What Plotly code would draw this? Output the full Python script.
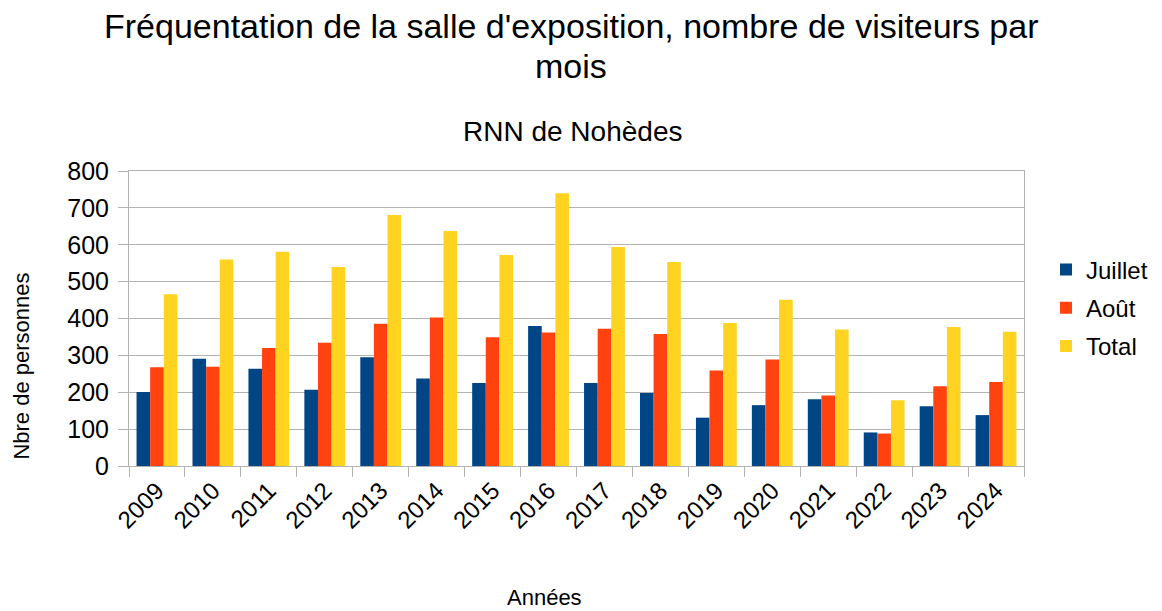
import plotly.graph_objects as go

years = ["2009", "2010", "2011", "2012", "2013", "2014", "2015", "2016",
         "2017", "2018", "2019", "2020", "2021", "2022", "2023", "2024"]
juillet = [201, 291, 264, 207, 295, 237, 225, 380, 225, 198, 131, 165, 181, 91, 162, 138]
aout = [268, 269, 320, 334, 386, 403, 349, 362, 372, 358, 259, 289, 191, 88, 216, 228]
total = [466, 560, 581, 540, 681, 637, 572, 740, 594, 553, 388, 451, 370, 178, 377, 364]

FONT = "Liberation Sans, Arial, sans-serif"

fig = go.Figure()
for name, vals, col in [("Juillet", juillet, "#004586"),
                        ("Août", aout, "#ff420e"),
                        ("Total", total, "#ffd320")]:
    fig.add_trace(go.Bar(x=years, y=vals, name=name, marker_color=col,
                         marker_line_width=0, legendgroup=name))

fig.update_layout(
    width=1162, height=611,
    paper_bgcolor="white", plot_bgcolor="white",
    font=dict(family=FONT, color="#000000"),
    margin=dict(l=121, r=146, t=163, b=153),
    barmode="group", bargap=0.27, bargroupgap=0,
    showlegend=True,
    legend=dict(x=1.0246, xanchor="left", y=0.5356, yanchor="middle",
                font=dict(size=24, family=FONT), tracegroupgap=4,
                bgcolor="rgba(0,0,0,0)"),
    annotations=[
        dict(text="Fréquentation de la salle d'exposition, nombre de visiteurs par",
             xref="paper", yref="paper", x=0.4939, y=1.0, yshift=163 - 18, xanchor="center",
             yanchor="middle", showarrow=False, font=dict(size=34, family=FONT)),
        dict(text="mois",
             xref="paper", yref="paper", x=0.4939, y=1.0, yshift=163 - 58, xanchor="center",
             yanchor="middle", showarrow=False, font=dict(size=34, family=FONT)),
        dict(text="RNN de Nohèdes", xref="paper", yref="paper", x=0.4950, y=1.0, yshift=163 - 123,
             xanchor="center", yanchor="middle", showarrow=False,
             font=dict(size=28, family=FONT)),
        dict(text="Années", xref="paper", yref="paper", x=0.4637, y=0.0, yshift=-(589 - 458),
             xanchor="center", yanchor="middle", showarrow=False,
             font=dict(size=22, family=FONT)),
        dict(text="Nbre de personnes", xref="paper", yref="paper", x=0.0, xshift=-(121 - 14),
             y=0.337, xanchor="center", yanchor="middle", textangle=-90, showarrow=False,
             font=dict(size=22, family=FONT)),
    ],
)
fig.update_xaxes(
    type="category", showline=True, linecolor="#b3b3b3", linewidth=1, mirror=True,
    ticks="outside", tickson="boundaries", ticklen=10, tickcolor="#b3b3b3",
    tickangle=-45, tickfont=dict(size=24, family=FONT),
    showgrid=False,
)
fig.update_yaxes(
    range=[0, 800], dtick=100, showline=True, linecolor="#b3b3b3", linewidth=1, mirror=True,
    ticks="outside", ticklen=10, tickcolor="#b3b3b3", ticklabelstandoff=4,
    gridcolor="#b3b3b3", gridwidth=1, zeroline=False,
    tickfont=dict(size=25, family=FONT),
)

fig.write_html("out.html")
